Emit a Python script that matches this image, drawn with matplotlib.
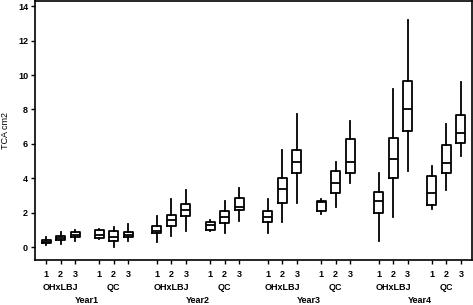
import matplotlib
matplotlib.use("Agg")
import matplotlib.pyplot as plt
from matplotlib.transforms import blended_transform_factory

plt.rcParams['font.family'] = ['Liberation Sans', 'DejaVu Sans']
plt.rcParams['font.weight'] = 'bold'

# Kategorije
years = ["Year1", "Year2", "Year3", "Year4"]
groups = ["OHxLBJ", "QC"]
levels = ["1", "2", "3"]

# Box statistika (redom: godina -> grupa -> nivo)
whis_low = [0.10, 0.17, 0.36, 0.45, -0.02, 0.36,
            0.29, 0.65, 0.93, 0.93, 0.81, 1.50,
            0.81, 1.45, 2.54, 1.91, 2.31, 3.70,
            0.35, 1.73, 4.45, 2.20, 3.30, 5.32]
q1 = [0.21, 0.40, 0.60, 0.50, 0.36, 0.56,
      0.81, 1.23, 1.79, 0.98, 1.39, 2.14,
      1.45, 2.54, 4.28, 2.08, 3.12, 4.28,
      1.97, 3.99, 6.77, 2.43, 4.28, 6.07]
med = [0.31, 0.52, 0.71, 0.70, 0.60, 0.73,
       0.94, 1.56, 2.14, 1.27, 1.75, 2.31,
       1.72, 3.35, 4.97, 2.60, 3.70, 4.97,
       2.66, 5.09, 8.04, 3.12, 4.86, 6.65]
q3 = [0.40, 0.64, 0.85, 0.98, 0.94, 0.89,
      1.21, 1.85, 2.49, 1.46, 2.10, 2.83,
      2.08, 3.99, 5.67, 2.66, 4.45, 6.30,
      3.18, 6.36, 9.66, 4.11, 5.96, 7.69]
whis_high = [0.56, 0.89, 0.98, 1.05, 1.17, 1.33,
             1.79, 2.78, 3.30, 1.56, 2.68, 3.41,
             2.78, 5.67, 7.75, 2.78, 4.97, 7.35,
             4.28, 9.20, 13.19, 4.74, 7.17, 9.60]

# Raspored kutija na x osi
GROUP_STEP = 3.67
YEAR_STEP = 7.65

positions = []
tick_labels = []
for yi in range(len(years)):
    for gi in range(len(groups)):
        for li, lab in enumerate(levels):
            positions.append(li + gi * GROUP_STEP + yi * YEAR_STEP)
            tick_labels.append(lab)

stats = []
for i in range(len(positions)):
    stats.append(dict(whislo=whis_low[i], q1=q1[i], med=med[i],
                      q3=q3[i], whishi=whis_high[i], fliers=[]))

fig = plt.figure(figsize=(4.73, 3.05), dpi=100)
ax = fig.add_axes([35 / 473, 45 / 305, 437 / 473, 259 / 305])

line_kw = dict(color="black", linewidth=1.3)
ax.bxp(stats, positions=positions, widths=0.62, showcaps=False,
       boxprops=line_kw, whiskerprops=line_kw, medianprops=line_kw)

ax.set_xlim(-0.76, positions[-1] + 0.76)
ax.set_ylim(-0.75, 14.3)
ax.set_yticks(range(0, 15, 2))
ax.set_xticks(positions)
ax.set_xticklabels(tick_labels)
ax.tick_params(axis="both", labelsize=6.5, length=3, width=1)
ax.tick_params(axis="x", pad=4)
ax.tick_params(axis="y", pad=2)
for s in ax.spines.values():
    s.set_linewidth(1.2)

ax.set_ylabel("TCA cm2", fontsize=6.5, labelpad=6)

# Oznake grupa i godina ispod tick labela
trans = blended_transform_factory(ax.transData, ax.transAxes)
for yi, year in enumerate(years):
    for gi, grp in enumerate(groups):
        x = 1 + gi * GROUP_STEP + yi * YEAR_STEP
        ax.text(x, -0.105, grp, transform=trans, ha="center", va="center", fontsize=6.5)
    xc = 1 + 0.5 * GROUP_STEP + yi * YEAR_STEP
    ax.text(xc, -0.155, year, transform=trans, ha="center", va="center", fontsize=6.5)

fig.savefig("out.png", dpi=100)
